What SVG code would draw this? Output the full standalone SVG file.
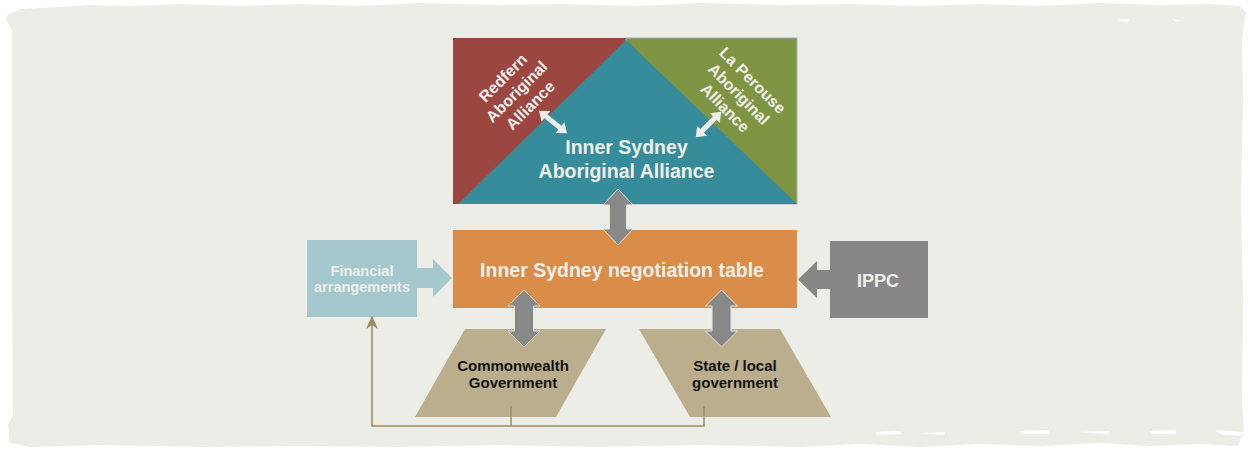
<svg xmlns="http://www.w3.org/2000/svg" width="1250" height="450" viewBox="0 0 1250 450">
<style>
.lbl{font-family:"Liberation Sans",Arial,sans-serif;font-weight:bold;text-anchor:middle;fill:#EFEFE9}
.dark{font-family:"Liberation Sans",Arial,sans-serif;font-weight:bold;text-anchor:middle;fill:#111111;font-size:15px}
.garrow{fill:#888888;stroke:#E6E6E0;stroke-width:1}
.warrow{fill:#EEEEE8}
.conn{fill:none;stroke:#9C8B5F;stroke-width:1.5}
</style>
<defs>
<marker id="barb" markerUnits="userSpaceOnUse" markerWidth="13" markerHeight="12" viewBox="0 0 13 12" refX="12" refY="6" orient="auto">
<path d="M0,0 L13,6 L0,12 L4,6 z" fill="#9C8B5F"/>
</marker>
<polygon id="dbl" points="-18,0 -9,-7 -9,-2.5 9,-2.5 9,-7 18,0 9,7 9,2.5 -9,2.5 -9,7"/>
</defs>
<rect width="1250" height="450" fill="#FFFFFF"/>
<path d="M8,14 L20,9 L60,7 L90,5 L130,6 L180,4 L240,6 L300,4 L360,6 L420,3 L500,5 L560,4 L640,6 L700,3 L780,5 L850,4 L920,6 L980,4 L1040,6 L1100,3 L1160,5 L1210,4 L1240,6 L1246,12 L1242,40 L1243,100 L1241,200 L1243,300 L1242,400 L1244,432 L1238,446 L1200,444 L1150,446 L1100,443 L1040,446 L980,444 L920,447 L860,444 L800,447 L700,445 L600,447 L500,445 L400,447 L300,446 L200,447 L100,445 L30,447 L10,443 L8,425 L13,415 L12,300 L12,100 L12,30 L6,20 Z" fill="#EDEDE8"/>
<g fill="#FFFFFF">
<path d="M875,432 L900,431 L902,434 L878,435 Z"/>
<path d="M920,433 L945,432 L944,435 Z"/>
<path d="M1020,431 L1050,430 L1048,434 L1022,434 Z"/>
<path d="M1080,432 L1110,431 L1108,434 Z"/>
<path d="M1150,431 L1175,430 L1176,434 L1152,434 Z"/>
<path d="M1215,430 L1244,432 L1240,436 L1220,434 Z"/>
<path d="M1117,20 L1130,19 L1128,22 Z"/>
<path d="M1172,19 L1182,20 L1176,22 Z"/>
</g>

<g id="alliance">
<rect x="453" y="38" width="173" height="166" fill="#9B4640"/>
<rect x="626" y="38" width="171" height="166" fill="#7E9443" stroke="#A3AEC4" stroke-width="1"/>
<polygon points="626,40 797,204 458,204" fill="#378C9C"/>
<text class="lbl" x="626.5" y="154" font-size="19.5">Inner Sydney</text>
<text class="lbl" x="626.5" y="178" font-size="19.5">Aboriginal Alliance</text>
</g>

<g id="redfern">
<g transform="translate(516.5,91.5) rotate(-45)">
<text class="lbl" x="0" y="-13.7" font-size="16">Redfern</text>
<text class="lbl" x="0" y="5.7" font-size="16">Aboriginal</text>
<text class="lbl" x="0" y="25.1" font-size="16">Alliance</text>
</g>
</g>

<g id="laperouse">
<g transform="translate(739,94) rotate(45)">
<text class="lbl" x="0" y="-13.7" font-size="16">La Perouse</text>
<text class="lbl" x="0" y="5.7" font-size="16">Aboriginal</text>
<text class="lbl" x="0" y="25.1" font-size="16">Alliance</text>
</g>
</g>

<g id="negotiation">
<rect x="453" y="230" width="344" height="78" fill="#D98D49"/>
<text class="lbl" x="622" y="277" font-size="19.5">Inner Sydney negotiation table</text>
</g>

<g id="financial">
<rect x="307" y="240" width="110" height="77" fill="#A5C8CF"/>
<text class="lbl" x="362" y="276" font-size="14.5">Financial</text>
<text class="lbl" x="362" y="292" font-size="14.5">arrangements</text>
</g>

<g id="ippc">
<rect x="830" y="241" width="98" height="77" fill="#878787"/>
<text class="lbl" x="878" y="287" font-size="18">IPPC</text>
</g>

<g id="commonwealth">
<polygon points="465,329 606,329 556,417 415,417" fill="#BBAE8C"/>
<text class="dark" x="513" y="371">Commonwealth</text>
<text class="dark" x="513" y="388">Government</text>
</g>

<g id="state">
<polygon points="639,329 780,329 831,417 690,417" fill="#BBAE8C"/>
<text class="dark" x="735" y="371">State / local</text>
<text class="dark" x="735" y="388">government</text>
</g>

<g id="connectors">
<polygon class="garrow" points="618,189 633,205 626.5,205 626.5,229 633,229 618,245 603,229 609.5,229 609.5,205 603,205"/>
<polygon class="garrow" points="524,290 540,306 533.5,306 533.5,331 540,331 524,347 508,331 514.5,331 514.5,306 508,306"/>
<polygon class="garrow" points="721.5,290 737.5,306 731,306 731,331 737.5,331 721.5,347 705.5,331 712,331 712,306 705.5,306"/>
<polygon fill="#A5C8CF" points="416,268 433,268 433,259 452,278 433,297 433,288 416,288"/>
<polygon fill="#878787" points="831,270 817,270 817,261 798,279.5 817,298 817,289 831,289"/>
<use href="#dbl" class="warrow" transform="translate(553,122) rotate(39)"/>
<use href="#dbl" class="warrow" transform="translate(708.5,124.5) rotate(135)"/>
<path class="conn" d="M511,406 V426"/>
<path class="conn" d="M704,406 V426 H372 V317" marker-end="url(#barb)"/>
</g>
</svg>
